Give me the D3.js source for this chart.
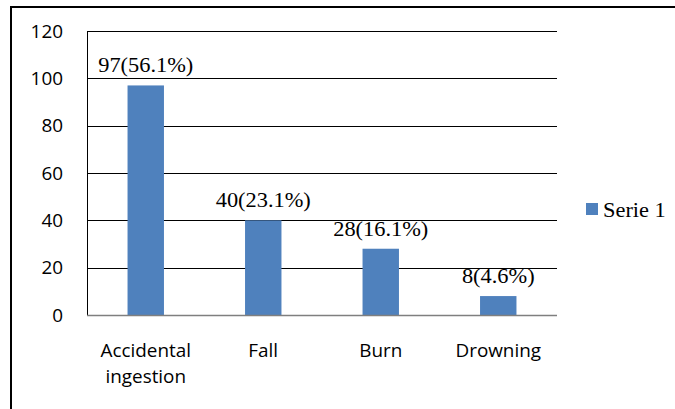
<!DOCTYPE html>
<html>
<head>
<meta charset="utf-8">
<script src="https://cdn.jsdelivr.net/npm/d3@7"></script>
<style>
  body { margin: 0; background: #fff; }
  svg { display: block; }
</style>
</head>
<body>
<div id="chart"></div>
<script>
// chart data
var categories = ['Accidental ingestion', 'Fall', 'Burn', 'Drowning'];
var values = [97, 40, 28, 8];
var percents = ['56.1%', '23.1%', '16.1%', '4.6%'];
var yTicks = [0, 20, 40, 60, 80, 100, 120];
var seriesName = 'Serie 1';

var W = 675, H = 409;
var m = {top: 31, right: 118, bottom: 94, left: 87};
var w = W - m.left - m.right;
var h = H - m.top - m.bottom;
var barColor = '#4f81bd';
var stretch = 1.12;   // serif text in the picture is slightly wide
var sansStretch = 1.05;

var svg = d3.select('#chart').append('svg')
  .attr('width', W).attr('height', H);

// outer frame (only left and top edges visible)
svg.append('path')
  .attr('d', 'M11,' + H + 'V7H' + W)
  .attr('fill', 'none').attr('stroke', '#000').attr('stroke-width', 2);

var g = svg.append('g').attr('transform', 'translate(' + m.left + ',' + m.top + ')');

var x = d3.scaleBand().domain(categories).range([0, w]).paddingInner(0.69).paddingOuter(0.345);
var y = d3.scaleLinear().domain([0, 120]).range([h, 0]);

// gridlines
g.selectAll('.grid').data(yTicks.filter(function(d){ return d > 0; }))
  .enter().append('line')
  .attr('x1', 0).attr('x2', w)
  .attr('y1', function(d){ return Math.round(y(d)) + 0.5; })
  .attr('y2', function(d){ return Math.round(y(d)) + 0.5; })
  .attr('stroke', '#000').attr('stroke-width', 1);

// y axis line
g.append('line')
  .attr('x1', 0.5).attr('x2', 0.5).attr('y1', 0).attr('y2', h)
  .attr('stroke', '#000');

// y tick labels
g.selectAll('.ylab').data(yTicks).enter().append('text')
  .attr('transform', function(d){ return 'translate(-24,' + (y(d) + 6.5) + ') scale(' + sansStretch + ',1)'; })
  .attr('text-anchor', 'end')
  .style('font-family', '"Open Sans", sans-serif')
  .style('font-size', '18px')
  .text(function(d){ return d; });

// bars
g.selectAll('.bar').data(values).enter().append('rect')
  .attr('x', function(d, i){ return x(categories[i]); })
  .attr('width', x.bandwidth())
  .attr('y', function(d){ return y(d); })
  .attr('height', function(d){ return h - y(d); })
  .attr('fill', barColor);

// baseline
g.append('line')
  .attr('x1', 0).attr('x2', w)
  .attr('y1', h + 0.5).attr('y2', h + 0.5)
  .attr('stroke', '#7f7f7f').attr('stroke-width', 1.5);

// value labels
g.selectAll('.vlab').data(values).enter().append('text')
  .attr('transform', function(d, i){
    return 'translate(' + (x(categories[i]) + x.bandwidth() / 2) + ',' + (y(d) - 13) + ') scale(' + stretch + ',1)';
  })
  .attr('text-anchor', 'middle')
  .style('font-family', '"Liberation Serif", "Times New Roman", serif')
  .style('font-size', '20px')
  .text(function(d, i){ return d + '(' + percents[i] + ')'; });

// category labels
var cat = g.selectAll('.clab').data(categories).enter().append('text')
  .attr('transform', function(d){
    return 'translate(' + (x(d) + x.bandwidth() / 2) + ',' + (h + 42) + ') scale(' + sansStretch + ',1)';
  })
  .attr('text-anchor', 'middle')
  .style('font-family', '"Open Sans", sans-serif')
  .style('font-size', '18px');
cat.each(function(d){
  var words = d === 'Accidental ingestion' ? ['Accidental', 'ingestion'] : [d];
  var t = d3.select(this);
  words.forEach(function(wd, k){
    t.append('tspan').attr('x', 0).attr('dy', k ? 26 : 0).text(wd);
  });
});

// legend
var lg = svg.append('g').attr('transform', 'translate(586,203)');
lg.append('rect').attr('width', 12).attr('height', 12).attr('fill', barColor);
lg.append('text')
  .attr('transform', 'translate(17,14) scale(' + stretch + ',1)')
  .style('font-family', '"Liberation Serif", "Times New Roman", serif')
  .style('font-size', '20px')
  .text(seriesName);
</script>
</body>
</html>
